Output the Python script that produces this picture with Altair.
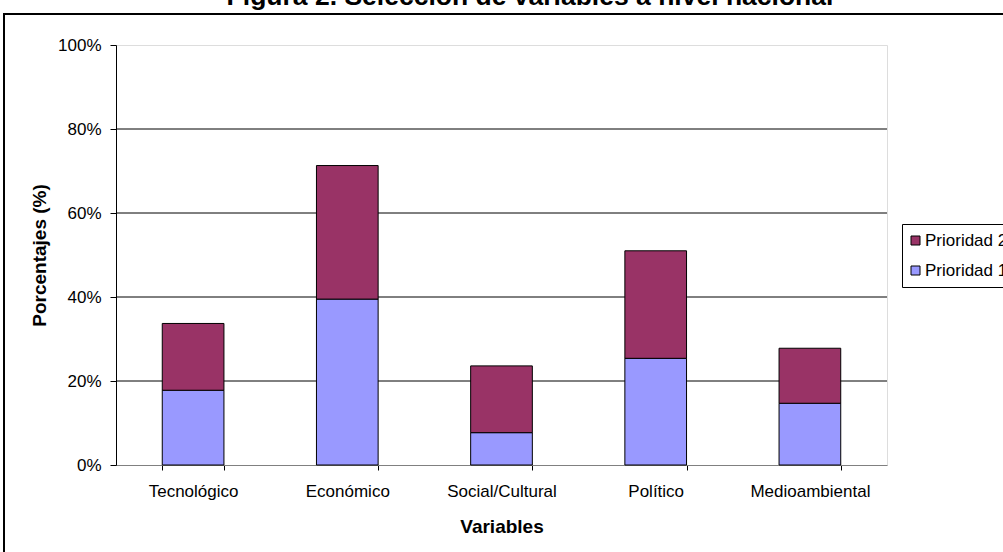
import altair as alt
import pandas as pd

title_text = "Figura 2. Selección de variables a nivel nacional"
categories = ["Tecnológico", "Económico", "Social/Cultural", "Político", "Medioambiental"]
prioridad1 = [17.8, 39.5, 7.7, 25.4, 14.7]
prioridad2 = [15.9, 31.8, 15.9, 25.6, 13.1]
series = ["Prioridad 2", "Prioridad 1"]
colors = ["#993366", "#9999FF"]
grid_values = [20, 40, 60, 80]
tick_values = [0, 20, 40, 60, 80, 100]

rows = []
for c, a, b in zip(categories, prioridad1, prioridad2):
    rows.append({"Variable": c, "Serie": "Prioridad 1", "Valor": a, "orden": 0})
    rows.append({"Variable": c, "Serie": "Prioridad 2", "Valor": b, "orden": 1})
df = pd.DataFrame(rows)
grid_df = pd.DataFrame({"g": grid_values})

FONT = "Liberation Sans"
one = pd.DataFrame({"a": [0]})

border = alt.Chart(one).mark_rect(
    fill=None, stroke="black", strokeWidth=2
).encode(
    x=alt.value(-112), y=alt.value(-31), x2=alt.value(1000), y2=alt.value(600)
)

title = alt.Chart(one).mark_text(
    font=FONT, fontSize=26.5, fontWeight="bold", color="black",
    align="center", baseline="alphabetic"
).encode(
    x=alt.value(414), y=alt.value(-40), text=alt.value(title_text)
)

grid = alt.Chart(grid_df).mark_rule(color="black", strokeWidth=1).encode(
    y=alt.Y("g:Q", scale=alt.Scale(domain=[0, 100]))
)

bars = alt.Chart(df).mark_bar(stroke="black", strokeWidth=1).encode(
    x=alt.X(
        "Variable:N",
        sort=categories,
        scale=alt.Scale(paddingInner=0.6, paddingOuter=0.3),
        axis=alt.Axis(
            title="Variables",
            labelAngle=0,
            tickBand="extent",
            tickSize=5,
            tickColor="black",
            domainColor="#808080",
            labelFont=FONT,
            labelFontSize=17,
            labelColor="black",
            labelPadding=13,
            titleFont=FONT,
            titleFontSize=19,
            titleFontWeight="bold",
            titlePadding=18,
            titleColor="black",
        ),
    ),
    y=alt.Y(
        "Valor:Q",
        stack="zero",
        scale=alt.Scale(domain=[0, 100]),
        axis=alt.Axis(
            title="Porcentajes (%)",
            values=tick_values,
            labelExpr="datum.value + '%'",
            grid=False,
            tickSize=6,
            tickColor="black",
            domainColor="black",
            labelFont=FONT,
            labelFontSize=17,
            labelColor="black",
            labelPadding=9,
            titleFont=FONT,
            titleFontSize=19,
            titleFontWeight="bold",
            titlePadding=8,
            titleColor="black",
        ),
    ),
    color=alt.Color(
        "Serie:N",
        scale=alt.Scale(domain=series, range=colors),
        legend=alt.Legend(
            title=None,
            orient="none",
            legendX=786,
            legendY=179,
            strokeColor="black",
            fillColor="white",
            padding=8,
            symbolType="square",
            symbolSize=81,
            symbolStrokeColor="black",
            symbolStrokeWidth=1,
            symbolOpacity=1,
            symbolOffset=-3,
            labelFont=FONT,
            labelFontSize=17,
            labelColor="black",
            labelOffset=1,
            rowPadding=12,
            labelLimit=300,
        ),
    ),
    order=alt.Order("orden:Q"),
)

chart = alt.layer(border, grid, bars, title).properties(
    width=771,
    height=420,
    padding={"left": 116, "top": 45, "right": 116, "bottom": 87},
    autosize=alt.AutoSizeParams(type="none"),
).configure_view(stroke=None).configure(background="white")

chart.save("out.html", embed_options={"renderer": "svg", "actions": False})
